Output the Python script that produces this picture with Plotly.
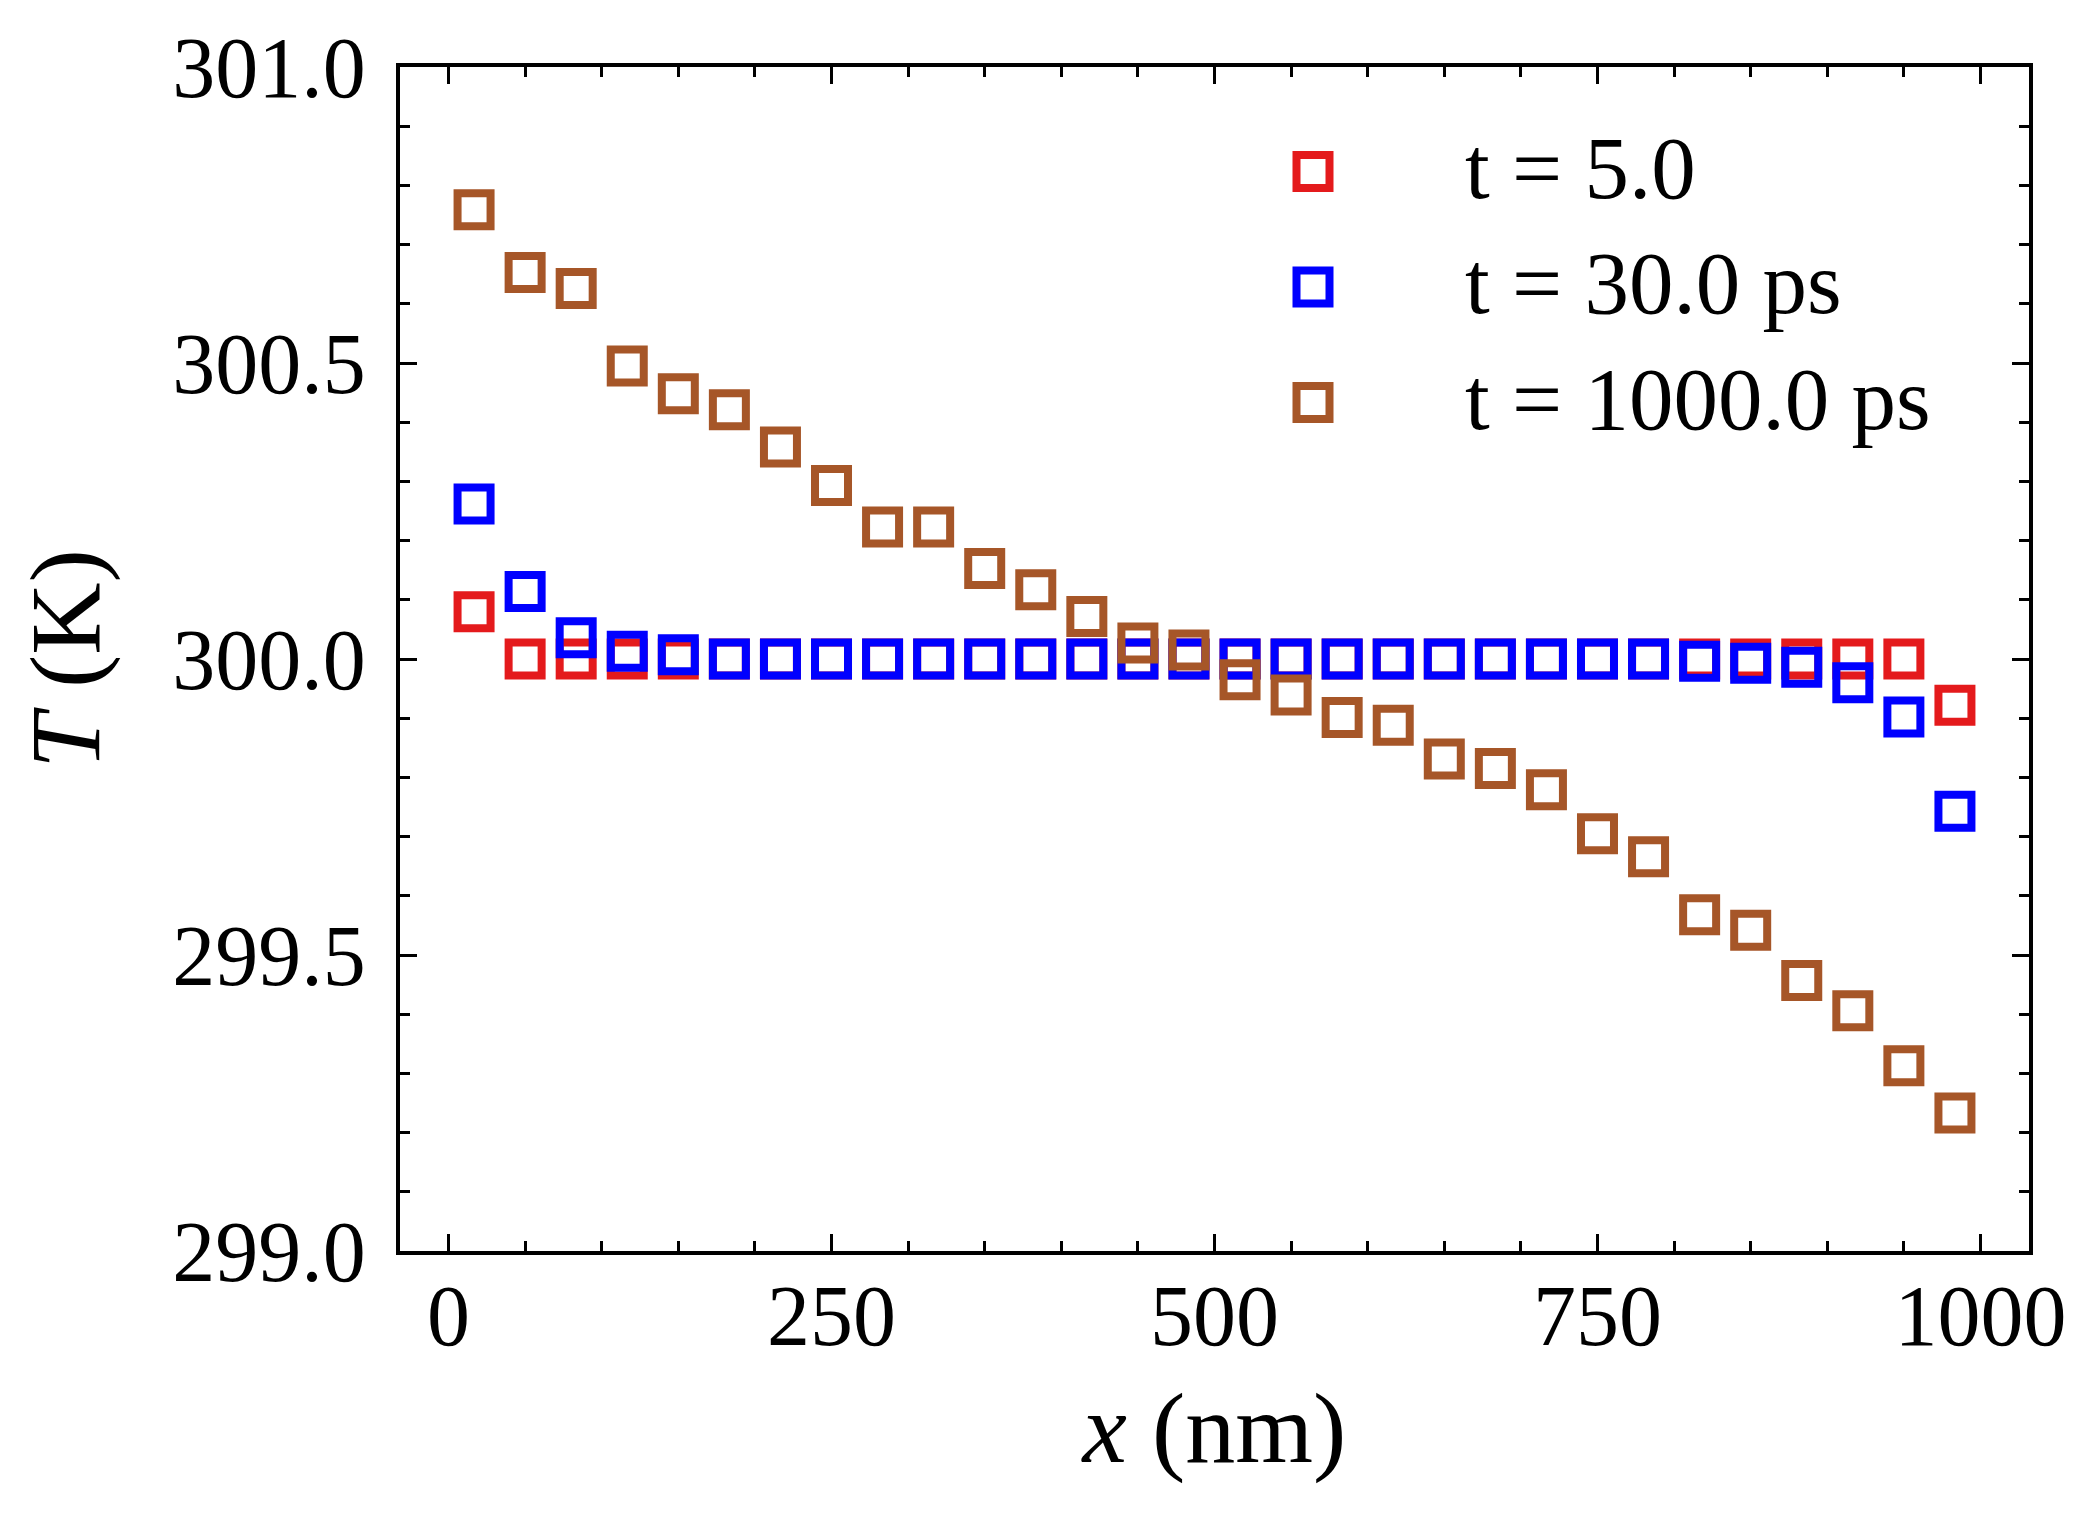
import plotly.graph_objects as go

x_nm = [16.67, 50.0, 83.33, 116.67, 150.0, 183.33, 216.67, 250.0, 283.33, 316.67,
        350.0, 383.33, 416.67, 450.0, 483.33, 516.67, 550.0, 583.33, 616.67, 650.0,
        683.33, 716.67, 750.0, 783.33, 816.67, 850.0, 883.33, 916.67, 950.0, 983.33]

T_5 = [300.080, 300.0, 300.0, 300.0, 300.0, 300.0, 300.0, 300.0, 300.0, 300.0,
       300.0, 300.0, 300.0, 300.0, 300.0, 300.0, 300.0, 300.0, 300.0, 300.0,
       300.0, 300.0, 300.0, 300.0, 300.0, 300.0, 300.0, 300.0, 300.0, 299.922]

T_30 = [300.262, 300.114, 300.036, 300.013, 300.007, 300.0, 300.0, 300.0, 300.0, 300.0,
        300.0, 300.0, 300.0, 300.0, 300.0, 300.0, 300.0, 300.0, 300.0, 300.0,
        300.0, 300.0, 300.0, 300.0, 299.996, 299.993, 299.986, 299.960, 299.902, 299.743]

T_1000 = [300.759, 300.653, 300.626, 300.495, 300.448, 300.421, 300.358, 300.293, 300.223, 300.223,
          300.153, 300.117, 300.072, 300.027, 300.015, 299.965, 299.939, 299.901, 299.888, 299.831,
          299.815, 299.779, 299.705, 299.666, 299.568, 299.542, 299.457, 299.406, 299.313, 299.233]

series_names = ["t = 5.0", "t = 30.0 ps", "t = 1000.0 ps"]
series_values = [T_5, T_30, T_1000]
series_colors = ["#e41a1c", "#0000ff", "#a65628"]

FONT = "Liberation Serif"
W, H = 2100, 1524
ML, MR, MT, MB = 392, 79, 54, 281
PW, PH = W - ML - MR, H - MT - MB

MSIZE, MLW = 33, 8

fig = go.Figure()
for i, (name, vals, col) in enumerate(zip(series_names, series_values, series_colors)):
    fig.add_trace(go.Scatter(
        x=x_nm, y=vals, mode="markers", name=name, showlegend=False,
        marker=dict(symbol="square-open", size=MSIZE, color=col,
                    line=dict(width=MLW, color=col)),
    ))

# manual legend (matches the large legend symbols of the reference)
leg_sym_x = 1305      # px in figure
leg_txt_x = 1455
leg_rows_y = [159, 275, 391]
for name, col, py in zip(series_names, series_colors, leg_rows_y):
    xp = (leg_sym_x - ML) / PW
    yp = 1 - (py - MT) / PH
    yt = 1 - (py - 4 - MT) / PH
    fig.add_shape(type="rect", xref="paper", yref="paper",
                  xsizemode="pixel", ysizemode="pixel",
                  xanchor=xp, yanchor=yp,
                  x0=-MSIZE / 2, x1=MSIZE / 2, y0=-MSIZE / 2, y1=MSIZE / 2,
                  line=dict(color=col, width=MLW), fillcolor="rgba(0,0,0,0)")
    fig.add_annotation(x=(leg_txt_x - ML) / PW, y=yt, xref="paper", yref="paper",
                       xanchor="left", yanchor="middle", showarrow=False,
                       text=name, font=dict(family=FONT, size=89, color="black"))

axis_common = dict(
    showline=True, linecolor="black", linewidth=4, mirror="allticks",
    ticks="inside", ticklen=17, tickwidth=3, tickcolor="black",
    showgrid=False, zeroline=False,
    tickfont=dict(family=FONT, size=86, color="black"),
)

fig.update_xaxes(
    range=[-31.67, 1031.67], tickmode="linear", tick0=0, dtick=250,
    minor=dict(ticks="inside", ticklen=10, tickwidth=2.5, tickcolor="black", dtick=50, tick0=0, showgrid=False),
    title=dict(text="<i>x</i> (nm)", font=dict(family=FONT, size=100, color="black"), standoff=30),
    ticklabelstandoff=-13,
    **axis_common,
)
fig.update_yaxes(
    range=[299, 301], tickmode="linear", tick0=299, dtick=0.5, tickformat=".1f",
    minor=dict(ticks="inside", ticklen=10, tickwidth=2.5, tickcolor="black", dtick=0.1, tick0=299, showgrid=False),
    title=dict(text="<i>T</i> (K)", font=dict(family=FONT, size=100, color="black"), standoff=40),
    ticklabelstandoff=13,
    **axis_common,
)

fig.update_layout(
    width=W, height=H,
    margin=dict(l=ML, r=MR, t=MT, b=MB),
    plot_bgcolor="white", paper_bgcolor="white",
    font=dict(family=FONT, size=86, color="black"),
    showlegend=False,
)

fig.write_html("out.html")
